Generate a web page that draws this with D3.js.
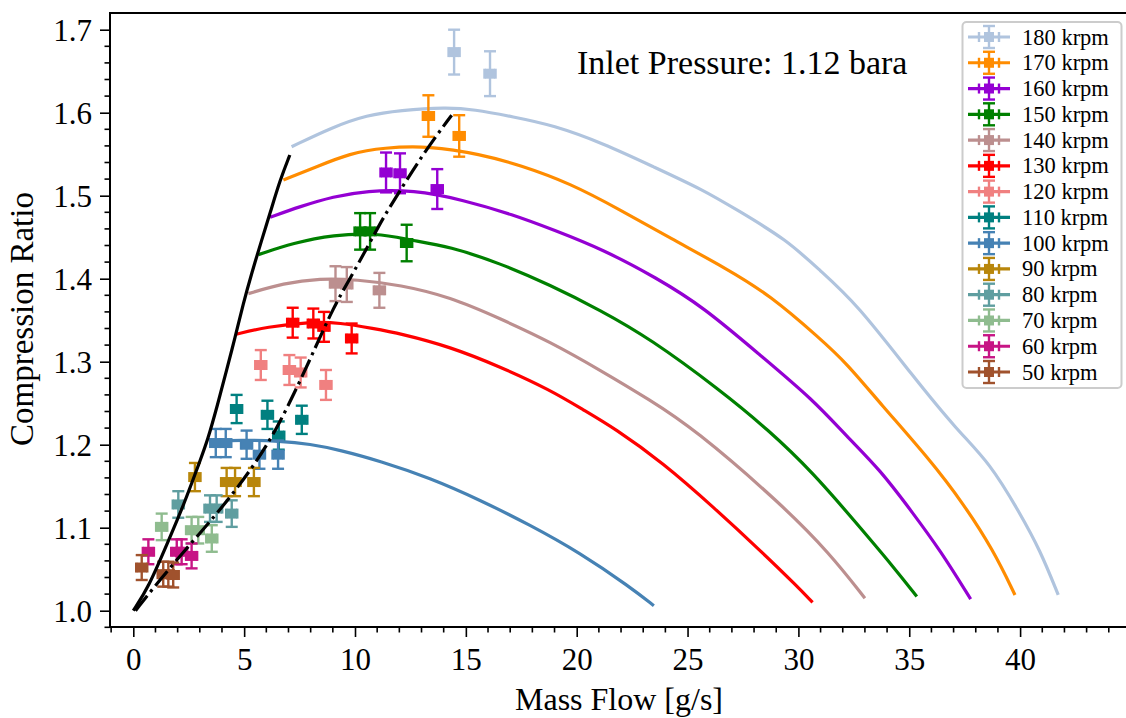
<!DOCTYPE html>
<html>
<head>
<meta charset="utf-8">
<script src="https://cdn.jsdelivr.net/npm/d3@7"></script>
<style>
  html, body { margin: 0; padding: 0; background: #fff; }
  svg { display: block; }
  text { font-family: "Liberation Serif", "DejaVu Serif", serif; fill: #000; }
</style>
</head>
<body>
<svg id="chart" width="1126" height="718"></svg>
<script>
// ---------------- DATA ----------------
const speedLabels = ["180 krpm","170 krpm","160 krpm","150 krpm","140 krpm","130 krpm","120 krpm","110 krpm","100 krpm","90 krpm","80 krpm","70 krpm","60 krpm","50 krpm"];
const speedColors = ["#b0c4de","#ff8c00","#9400d3","#008000","#bc8f8f","#ff0000","#f08080","#008080","#4682b4","#b8860b","#5f9ea0","#8fbc8f","#c71585","#a0522d"];

// measured points: mass flow [g/s]
const flow180 = [14.47, 16.09];
const flow170 = [13.31, 14.70];
const flow160 = [11.40, 12.03, 13.71];
const flow150 = [10.23, 10.68, 12.33];
const flow140 = [9.12, 9.63, 11.10];
const flow130 = [7.19, 8.12, 8.60, 9.85];
const flow120 = [5.75, 7.04, 7.55, 8.69];
const flow110 = [4.66, 6.05, 7.60, 6.56];
const flow100 = [3.72, 4.17, 5.11, 5.69, 6.53];
const flow90  = [2.78, 4.21, 4.59, 5.44];
const flow80  = [2.03, 3.46, 3.76, 4.44];
const flow70  = [1.28, 2.63, 2.93, 3.54];
const flow60  = [0.68, 1.96, 2.18, 2.63];
const flow50  = [0.38, 1.35, 1.58, 1.80];
// measured points: compression ratio
const cr180 = [1.673, 1.647];
const cr170 = [1.596, 1.572];
const cr160 = [1.528, 1.527, 1.508];
const cr150 = [1.457, 1.457, 1.443];
const cr140 = [1.394, 1.393, 1.386];
const cr130 = [1.347, 1.346, 1.342, 1.328];
const cr120 = [1.296, 1.290, 1.287, 1.272];
const cr110 = [1.243, 1.236, 1.230, 1.211];
const cr100 = [1.202, 1.202, 1.200, 1.188, 1.188];
const cr90  = [1.161, 1.155, 1.155, 1.155];
const cr80  = [1.128, 1.123, 1.123, 1.117];
const cr70  = [1.101, 1.097, 1.097, 1.087];
const cr60  = [1.071, 1.071, 1.071, 1.066];
const cr50  = [1.052, 1.044, 1.044, 1.043];
// uncertainties
const crErr   = [0.027, 0.025, 0.024, 0.022, 0.021, 0.018, 0.018, 0.017, 0.017, 0.017, 0.016, 0.016, 0.015, 0.015];
const flowErr = [0.25, 0.25, 0.25, 0.25, 0.25, 0.25, 0.25, 0.25, 0.25, 0.25, 0.25, 0.25, 0.25, 0.25];

// predicted speed lines
const line180x = [7.14, 9.02, 10.53, 12.03, 14.14, 15.34, 17.14, 18.94, 21.2, 23.45, 25.71, 27.22, 29.47, 30.97, 32.63, 35.18, 37.14, 38.64, 40.0, 40.9, 41.72];
const line180y = [1.559, 1.583, 1.597, 1.603, 1.6065, 1.604, 1.595, 1.585, 1.563, 1.535, 1.507, 1.483, 1.447, 1.410, 1.370, 1.282, 1.218, 1.178, 1.117, 1.073, 1.019];
const line170x = [6.77, 8.27, 9.77, 11.28, 13.38, 15.64, 17.44, 19.7, 21.96, 24.21, 26.77, 28.72, 30.97, 32.18, 33.68, 35.93, 37.44, 38.79, 39.77];
const line170y = [1.519, 1.535, 1.551, 1.558, 1.560, 1.550, 1.537, 1.515, 1.483, 1.449, 1.412, 1.380, 1.328, 1.298, 1.250, 1.182, 1.129, 1.073, 1.019];
const line160x = [6.17, 7.52, 9.02, 10.53, 12.63, 14.88, 17.14, 18.94, 21.2, 23.6, 25.71, 28.27, 30.67, 32.18, 33.68, 35.18, 36.39, 37.77];
const line160y = [1.474, 1.487, 1.499, 1.506, 1.507, 1.495, 1.477, 1.459, 1.435, 1.401, 1.366, 1.308, 1.254, 1.210, 1.170, 1.117, 1.073, 1.014];
const line150x = [5.64, 7.22, 9.02, 10.98, 12.48, 14.29, 16.54, 18.8, 21.05, 23.3, 26.46, 28.64, 30.67, 32.63, 34.28, 35.34];
const line150y = [1.429, 1.443, 1.453, 1.455, 1.4466, 1.4386, 1.4186, 1.3924, 1.3623, 1.328, 1.266, 1.218, 1.166, 1.105, 1.053, 1.017];
const line140x = [5.19, 6.77, 8.42, 10.08, 12.03, 14.29, 16.54, 18.8, 21.05, 23.3, 25.26, 29.17, 31.42, 33.0];
const line140y = [1.382, 1.3945, 1.4005, 1.399, 1.3925, 1.378, 1.352, 1.324, 1.290, 1.254, 1.220, 1.130, 1.069, 1.015];
const line130x = [4.64, 6.02, 7.97, 9.32, 10.83, 12.03, 14.29, 16.54, 18.8, 20.3, 21.7, 23.9, 26.16, 28.42, 29.92, 30.64];
const line130y = [1.333, 1.342, 1.348, 1.347, 1.340, 1.334, 1.318, 1.294, 1.266, 1.242, 1.220, 1.178, 1.125, 1.069, 1.030, 1.010];
const line100x = [3.6, 4.81, 6.62, 7.97, 9.32, 11.12, 13.38, 15.64, 17.89, 20.15, 22.4, 23.48];
const line100y = [1.2045, 1.2057, 1.2045, 1.2008, 1.1936, 1.1804, 1.160, 1.1334, 1.1033, 1.0697, 1.0286, 1.006];

// surge line (solid black) and dash-dot line
const surgeX = [0.0, 0.7, 1.5, 2.3, 3.0, 3.35, 3.8, 4.21, 4.59, 4.96, 5.34, 5.79, 6.17, 6.62, 7.06];
const surgeY = [1.0, 1.029, 1.079, 1.129, 1.180, 1.205, 1.248, 1.290, 1.329, 1.370, 1.4065, 1.4466, 1.479, 1.519, 1.549];
const dashX = [0.1, 1.13, 2.56, 3.91, 5.41, 6.55, 7.97, 9.02, 10.08, 11.13, 11.58, 13.08, 14.36];
const dashY = [1.0, 1.035, 1.080, 1.121, 1.173, 1.222, 1.302, 1.366, 1.414, 1.4667, 1.4867, 1.551, 1.597];

const xTicks = [0, 5, 10, 15, 20, 25, 30, 35, 40];
const yTicks = [1.0, 1.1, 1.2, 1.3, 1.4, 1.5, 1.6, 1.7];
const annotationText = "Inlet Pressure: 1.12 bara";
const xLabel = "Mass Flow [g/s]";
const yLabel = "Compression Ratio";

// ---------------- BUILD ----------------
const flows = [flow180, flow170, flow160, flow150, flow140, flow130, flow120, flow110, flow100, flow90, flow80, flow70, flow60, flow50];
const crs   = [cr180, cr170, cr160, cr150, cr140, cr130, cr120, cr110, cr100, cr90, cr80, cr70, cr60, cr50];
const lines = [
  {i: 0, x: line180x, y: line180y},
  {i: 1, x: line170x, y: line170y},
  {i: 2, x: line160x, y: line160y},
  {i: 3, x: line150x, y: line150y},
  {i: 4, x: line140x, y: line140y},
  {i: 5, x: line130x, y: line130y},
  {i: 8, x: line100x, y: line100y}
];

const svg = d3.select("#chart");
const pL = 110, pR = 1128, pT = 13, pB = 627;

const x = d3.scaleLinear().domain([(pL - 133.3) / 22.17, (pR - 133.3) / 22.17]).range([pL, pR]);
const y = d3.scaleLinear().domain([1.0 - (pB - 610.7) / 830, 1.0 + (610.7 - pT) / 830]).range([pB, pT]);

const zip = (a, b) => a.map((v, k) => [v, b[k]]);
const lineGen = d3.line().x(d => x(d[0])).y(d => y(d[1])).curve(d3.curveBasis);

const plot = svg.append("g");

// speed lines
plot.selectAll("path.speed").data(lines).join("path")
  .attr("class", "speed")
  .attr("d", d => lineGen(zip(d.x, d.y)))
  .attr("fill", "none")
  .attr("stroke", d => speedColors[d.i])
  .attr("stroke-width", 3.2)
  .attr("stroke-linejoin", "round");

// error bars + markers
const capY = 6, capX = 5, ms = 10, ebw = 2.4;
flows.forEach((fx, i) => {
  const col = speedColors[i];
  const g = plot.append("g");
  const pts = zip(fx, crs[i]);
  pts.forEach(p => {
    const cx = x(p[0]), cy = y(p[1]);
    const y0 = y(p[1] - crErr[i]), y1 = y(p[1] + crErr[i]);
    const x0 = x(p[0] - flowErr[i]), x1 = x(p[0] + flowErr[i]);
    const segs = [
      [cx, y0, cx, y1], [cx - capY, y0, cx + capY, y0], [cx - capY, y1, cx + capY, y1],
      [x0, cy, x1, cy], [x0, cy - capX, x0, cy + capX], [x1, cy - capX, x1, cy + capX]
    ];
    segs.forEach(s => g.append("line")
      .attr("x1", s[0]).attr("y1", s[1]).attr("x2", s[2]).attr("y2", s[3])
      .attr("stroke", col).attr("stroke-width", ebw));
    g.append("rect").attr("x", cx - ms / 2).attr("y", cy - ms / 2)
      .attr("width", ms).attr("height", ms).attr("fill", col);
  });
});

// black lines
plot.append("path").attr("d", lineGen(zip(surgeX, surgeY)))
  .attr("fill", "none").attr("stroke", "#000").attr("stroke-width", 3.2)
  .attr("stroke-linejoin", "round");
plot.append("path").attr("d", lineGen(zip(dashX, dashY)))
  .attr("fill", "none").attr("stroke", "#000").attr("stroke-width", 3.2)
  .attr("stroke-dasharray", "19,5,3,5");

// axes (spines)
svg.append("line").attr("x1", pL).attr("x2", pL).attr("y1", pT).attr("y2", pB)
  .attr("stroke", "#000").attr("stroke-width", 2);
svg.append("line").attr("x1", pL - 1).attr("x2", pR).attr("y1", pB).attr("y2", pB)
  .attr("stroke", "#000").attr("stroke-width", 2);
svg.append("line").attr("x1", pL - 1).attr("x2", pR).attr("y1", pT).attr("y2", pT)
  .attr("stroke", "#000").attr("stroke-width", 2);

// x axis ticks
const xAxisG = svg.append("g").attr("transform", `translate(0,${pB})`);
const xAx = d3.axisBottom(x).tickValues(xTicks).tickSize(10).tickPadding(11).tickFormat(d3.format("d"));
xAxisG.call(xAx);
const xMinor = d3.range(-1, 45).filter(v => v % 5 !== 0);
xAxisG.append("g").selectAll("line").data(xMinor).join("line")
  .attr("x1", d => x(d)).attr("x2", d => x(d)).attr("y1", 0).attr("y2", 5.5)
  .attr("stroke", "#000").attr("stroke-width", 1.6);

// y axis ticks
const yAxisG = svg.append("g").attr("transform", `translate(${pL},0)`);
const yAx = d3.axisLeft(y).tickValues(yTicks).tickSize(10).tickPadding(8).tickFormat(d3.format(".1f"));
yAxisG.call(yAx);
const yMinor = d3.range(0, 37).map(k => 0.98 + k * 0.02).filter(v => Math.abs(v * 10 - Math.round(v * 10)) > 1e-6);
yAxisG.append("g").selectAll("line").data(yMinor).join("line")
  .attr("x1", 0).attr("x2", -5.5).attr("y1", d => y(d)).attr("y2", d => y(d))
  .attr("stroke", "#000").attr("stroke-width", 1.6);

[xAxisG, yAxisG].forEach(g => {
  g.select(".domain").remove();
  g.selectAll(".tick line").attr("stroke", "#000").attr("stroke-width", 1.6);
  g.selectAll(".tick text").attr("font-family", "Liberation Serif").attr("font-size", 31).attr("fill", "#000");
});
yAxisG.selectAll(".tick text").attr("dy", "0.34em");

// axis labels
svg.append("text").attr("x", 619).attr("y", 710).attr("text-anchor", "middle")
  .attr("font-size", 32).text(xLabel);
svg.append("text").attr("transform", "translate(33,319) rotate(-90)").attr("text-anchor", "middle")
  .attr("font-size", 33).text(yLabel);

// annotation
svg.append("text").attr("x", 577).attr("y", 74).attr("font-size", 34).text(annotationText);

// legend
const lg = svg.append("g");
lg.append("rect").attr("x", 962.5).attr("y", 22).attr("width", 159).attr("height", 366)
  .attr("rx", 4).attr("fill", "#fff").attr("fill-opacity", 0.8)
  .attr("stroke", "#cccccc").attr("stroke-width", 2);
speedLabels.forEach((lab, i) => {
  const cy = 37 + i * 25.77;
  const cx = 989;
  const col = speedColors[i];
  const e = lg.append("g");
  const segs = [
    [968, cy, 1010, cy],
    [cx, cy - 11, cx, cy + 11], [cx - 6, cy - 11, cx + 6, cy - 11], [cx - 6, cy + 11, cx + 6, cy + 11],
    [cx - 10, cy - 5, cx - 10, cy + 5], [cx + 10, cy - 5, cx + 10, cy + 5]
  ];
  segs.forEach((s, k) => e.append("line")
    .attr("x1", s[0]).attr("y1", s[1]).attr("x2", s[2]).attr("y2", s[3])
    .attr("stroke", col).attr("stroke-width", k === 0 ? 3.2 : 2.4));
  e.append("rect").attr("x", cx - 5).attr("y", cy - 5).attr("width", 10).attr("height", 10).attr("fill", col);
  lg.append("text").attr("x", 1022).attr("y", cy + 7.5).attr("font-size", 22.5).text(lab);
});
</script>
</body>
</html>
